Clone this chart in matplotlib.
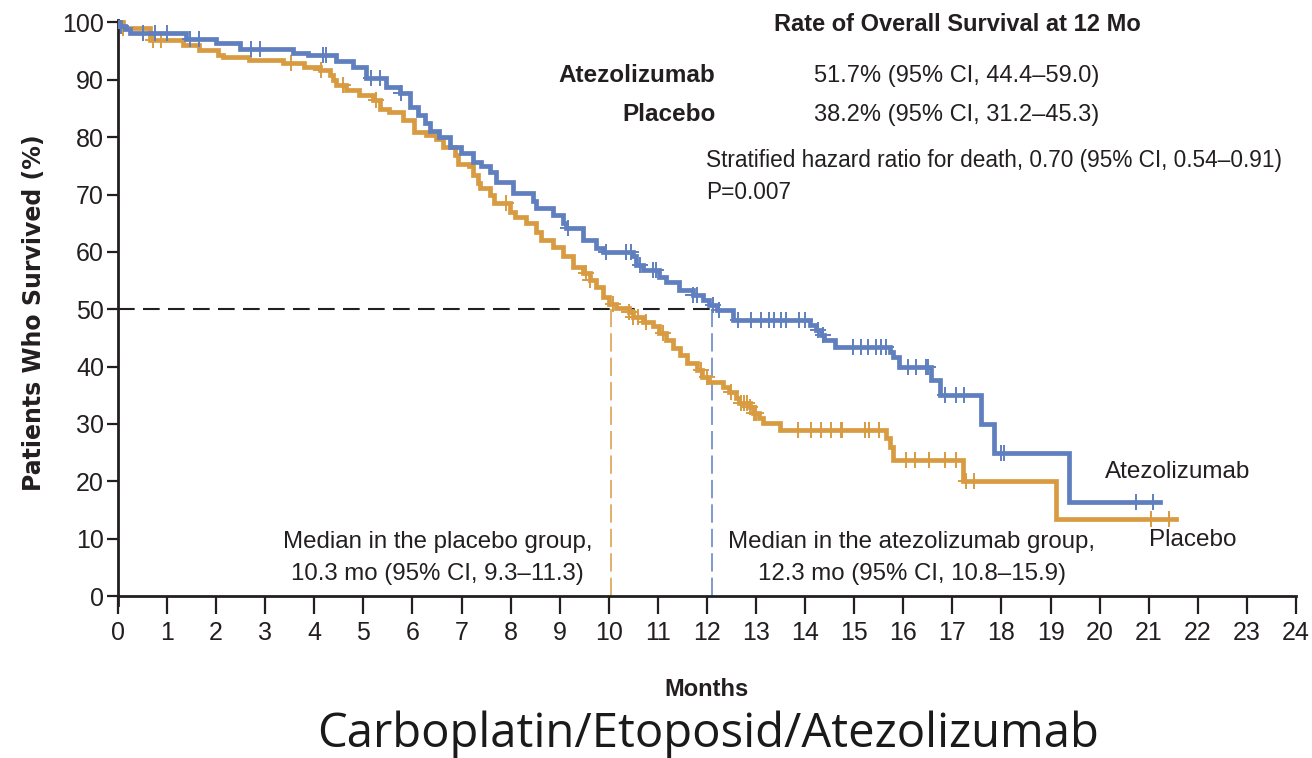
import numpy as np
import matplotlib
matplotlib.use('Agg')
import matplotlib.pyplot as plt
from matplotlib import font_manager

# Kaplan-Meier: Gesamtüberleben, Atezolizumab vs. Placebo
atezo_t = [0, 0.05, 0.15, 0.24, 1.39, 2.0, 2.48, 3.56, 3.87, 4.45, 4.79, 5.06, 5.47, 5.74,
           5.94, 6.11, 6.25, 6.35, 6.55, 6.76, 6.99, 7.23, 7.40, 7.57, 7.71, 8.04, 8.45,
           8.52, 8.86, 9.06, 9.13, 9.47, 9.74, 9.88, 10.49, 10.56, 10.69, 11.03, 11.17,
           11.44, 11.71, 11.91, 12.05, 12.2, 12.53, 14.09, 14.22, 14.33, 14.39, 14.60,
           15.72, 15.79, 15.92, 16.57, 16.74, 17.58, 17.84, 19.38, 21.22]
atezo_s = [100, 99.4, 98.8, 98.2, 97.2, 96.4, 95.3, 94.7, 94.3, 93.2, 92.3, 90.3, 88.8, 87.7,
           85.3, 83.9, 82.4, 81.0, 80.1, 78.3, 77.2, 75.7, 74.9, 74.0, 72.2, 70.2, 68.8,
           67.6, 66.4, 65.0, 64.1, 62.1, 60.6, 60.0, 59.2, 57.7, 56.8, 55.7, 54.8,
           53.4, 52.5, 51.6, 50.7, 49.9, 48.1, 47.3, 46.4, 45.5, 44.6, 43.5,
           42.6, 41.7, 40.0, 37.7, 35.0, 30.0, 24.9, 16.4, 16.4]
atezo_cens = [0.07, 0.51, 0.75, 0.99, 1.46, 1.66, 2.72, 2.89, 4.18, 4.24, 5.16, 5.33, 5.77,
              9.17, 9.95, 10.35, 10.45, 10.63, 10.90, 10.97, 11.71, 11.8, 12.12, 12.25,
              12.63, 12.90, 13.10, 13.27, 13.37, 13.51, 13.61, 13.88, 13.99, 14.26, 14.36,
              14.97, 15.14, 15.28, 15.45, 15.55, 15.65, 16.09, 16.26, 16.46, 16.5, 16.84,
              17.08, 17.24, 17.99, 18.06, 20.74, 21.08]

plac_t = [0, 0.1, 0.65, 1.32, 1.66, 2.04, 2.14, 2.68, 3.36, 3.80, 4.11, 4.31, 4.38, 4.45,
          4.65, 4.92, 5.19, 5.33, 5.53, 5.80, 6.04, 6.28, 6.48, 6.62, 6.86, 6.92, 7.16,
          7.23, 7.33, 7.37, 7.57, 7.67, 7.98, 8.08, 8.32, 8.52, 8.62, 8.86, 9.06, 9.27,
          9.47, 9.61, 9.74, 9.88, 10.01, 10.15, 10.42, 10.49, 10.69, 10.90, 11.03, 11.17,
          11.30, 11.45, 11.6, 11.8, 11.9, 12.05, 12.32, 12.45, 12.59, 12.66, 12.87, 12.93,
          13.07, 13.14, 13.48, 15.65, 15.72, 15.79, 17.21, 19.11, 21.56]
plac_s = [100, 99.0, 97.0, 96.1, 95.2, 94.3, 93.9, 93.5, 92.9, 92.3, 91.7, 90.9, 90.0, 89.1,
          88.2, 87.4, 86.5, 85.0, 84.4, 83.0, 80.9, 80.4, 79.6, 78.3, 76.9, 75.4, 74.9,
          73.4, 72.0, 71.1, 69.9, 68.5, 67.0, 66.1, 65.0, 63.5, 62.1, 60.9, 59.2, 57.4,
          56.3, 55.1, 53.9, 52.2, 51.0, 50.2, 49.6, 48.7, 47.8, 47.0, 45.8, 44.6,
          43.2, 42.0, 40.6, 39.4, 38.2, 37.4, 36.5, 35.5, 34.5, 33.6, 33.0, 31.9,
          31.0, 30.1, 28.9, 27.5, 26.0, 23.7, 20.0, 13.5, 13.5]
plac_cens = [0.10, 0.71, 0.88, 3.53, 4.14, 4.58, 5.26, 7.91, 9.54, 9.62, 10.08, 10.42, 10.5,
             10.6, 10.76, 11.1, 11.88, 12.0, 12.49, 12.7, 12.75, 12.82, 12.88, 12.95, 13.0,
             13.85, 14.12, 14.33, 14.53, 14.73, 14.76, 15.21, 15.31, 15.51, 16.06, 16.23,
             16.53, 16.84, 17.08, 17.28, 17.45, 21.05, 21.42]

median_plac = 10.05
median_atezo = 12.1

blue = '#5f7fbf'
orange = '#d89b42'
ink = '#231f20'

names = {f.name for f in font_manager.fontManager.ttflist}
narrow = 'Liberation Sans Narrow' if 'Liberation Sans Narrow' in names else 'Liberation Sans'
plt.rcParams['font.family'] = [narrow, 'DejaVu Sans']


def surv_at(times, surv, pts):
    idx = np.searchsorted(times, pts, side='right') - 1
    return np.asarray(surv)[idx]


fig = plt.figure(figsize=(13.12, 7.58), dpi=100)
ax = fig.add_axes([0.0899, 0.2016, 0.8979, 0.7725])

ax.step(plac_t, plac_s, where='post', color=orange, lw=3.4, solid_joinstyle='miter', zorder=3)
ax.step(atezo_t, atezo_s, where='post', color=blue, lw=3.4, solid_joinstyle='miter', zorder=4)
ax.plot(plac_cens, surv_at(plac_t, plac_s, plac_cens), ls='none', marker='+', ms=11,
        mew=1.4, color=orange, zorder=3)
ax.plot(atezo_cens, surv_at(atezo_t, atezo_s, atezo_cens), ls='none', marker='+', ms=11,
        mew=1.4, color=blue, zorder=4)

# Mediane
ax.plot([0, median_atezo], [50, 50], color=ink, lw=1.5, dashes=(8, 4), zorder=2)
ax.plot([median_plac, median_plac], [0, 50], color=orange, lw=1.1, dashes=(12, 4), zorder=2)
ax.plot([median_atezo, median_atezo], [0, 50], color=blue, lw=1.1, dashes=(12, 4), zorder=2)

ax.set_xlim(0, 24)
ax.set_ylim(-1.6, 100.5)
ax.set_xticks(range(0, 25))
ax.set_yticks(range(0, 101, 10))
for s in ['top', 'right']:
    ax.spines[s].set_visible(False)
ax.spines['bottom'].set_position(('data', 0))
for s in ['left', 'bottom']:
    ax.spines[s].set_linewidth(2)
    ax.spines[s].set_color(ink)
ax.tick_params(axis='x', length=13, width=1.6, color=ink, labelsize=18, labelcolor=ink, pad=5)
ax.tick_params(axis='y', length=8, width=1.6, color=ink, labelsize=18, labelcolor=ink, pad=2)

ax.set_xlabel('Months', fontsize=17, fontweight='bold', color=ink, labelpad=24)
ax.set_ylabel('Patients Who Survived (%)', fontsize=17, fontweight='bold', color=ink,
              family=['DejaVu Sans'], labelpad=12)

ax.text(17.1, 99.6, 'Rate of Overall Survival at 12 Mo', fontsize=17, fontweight='bold',
        color=ink, ha='center', va='center')
ax.text(12.17, 90.7, 'Atezolizumab', fontsize=17.5, fontweight='bold', color=ink,
        ha='right', va='center')
ax.text(12.17, 83.9, 'Placebo', fontsize=17.5, fontweight='bold', color=ink,
        ha='right', va='center')
ax.text(14.19, 90.7, '51.7% (95% CI, 44.4–59.0)', fontsize=17, color=ink, va='center')
ax.text(14.19, 83.9, '38.2% (95% CI, 31.2–45.3)', fontsize=17, color=ink, va='center')
ax.text(11.99, 75.9, 'Stratified hazard ratio for death, 0.70 (95% CI, 0.54–0.91)',
        fontsize=16.3, color=ink, va='center')
ax.text(11.99, 70.3, 'P=0.007', fontsize=16.3, color=ink, va='center')

ax.text(6.51, 6.6, 'Median in the placebo group,\n10.3 mo (95% CI, 9.3–11.3)', fontsize=17.3,
        color=ink, ha='center', va='center', linespacing=1.6)
ax.text(16.17, 6.6, 'Median in the atezolizumab group,\n12.3 mo (95% CI, 10.8–15.9)',
        fontsize=17.3, color=ink, ha='center', va='center', linespacing=1.6)
ax.text(20.1, 21.6, 'Atezolizumab', fontsize=17.5, color=ink, va='center')
ax.text(21.01, 9.8, 'Placebo', fontsize=17.5, color=ink, va='center')

fig.text(0.54, 0.031, 'Carboplatin/Etoposid/Atezolizumab', fontsize=34, color='#1a1a1a',
         ha='center', va='center', family=['Open Sans', 'DejaVu Sans'])

fig.savefig('out.png', dpi=100, facecolor='white')
